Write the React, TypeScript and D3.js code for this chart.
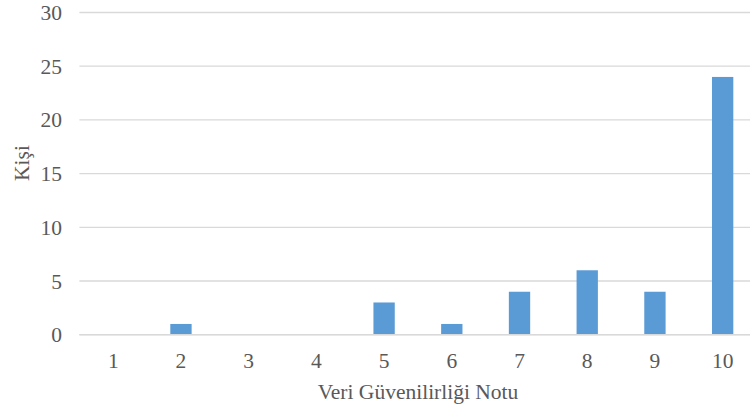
import React from "react";
import * as d3 from "d3";

const categories = ["1", "2", "3", "4", "5", "6", "7", "8", "9", "10"];
const values = [0, 1, 0, 0, 3, 1, 4, 6, 4, 24];
const yTicks = [0, 5, 10, 15, 20, 25, 30];
const xTitle = "Veri Güvenilirliği Notu";
const yTitle = "Kişi";

export default function App() {
  const W = 750, H = 409;
  const left = 79.4, right = 756.5, top = 12.5, bottom = 334.7;
  const x = d3.scaleBand<string>().domain(categories).range([left, right]).paddingInner(0.685).paddingOuter(0.3425);
  const y = d3.scaleLinear().domain([0, 30]).range([bottom, top]);
  const font = "'Liberation Serif', 'Times New Roman', serif";
  const fs = 21.5;
  return (
    <svg width={W} height={H} style={{ position: "absolute", left: 0, top: 0, background: "#fff" }}>
      {yTicks.map((t) => (
        <g key={t}>
          <line x1={left} x2={W} y1={y(t)} y2={y(t)} stroke="#d9d9d9" strokeWidth={1.3} />
          <text x={62} y={y(t)} dy="0.35em" textAnchor="end" fontFamily={font} fontSize={fs} fill="#595959">{t}</text>
        </g>
      ))}
      {categories.map((c, i) => (
        <g key={c}>
          {values[i] > 0 && (
            <rect x={x(c)!} width={x.bandwidth()} y={y(values[i])} height={bottom - y(values[i])} fill="#5b9bd5" />
          )}
          <text x={x(c)! + x.bandwidth() / 2} y={368} textAnchor="middle" fontFamily={font} fontSize={fs} fill="#595959">{c}</text>
        </g>
      ))}
      <line x1={left} x2={W} y1={bottom} y2={bottom} stroke="#d9d9d9" strokeWidth={1.5} />
      <text x={418} y={399} textAnchor="middle" fontFamily={font} fontSize={fs} fill="#595959">{xTitle}</text>
      <text transform={`translate(29, 163) rotate(-90)`} textAnchor="middle" fontFamily={font} fontSize={fs} fill="#595959">{yTitle}</text>
    </svg>
  );
}
